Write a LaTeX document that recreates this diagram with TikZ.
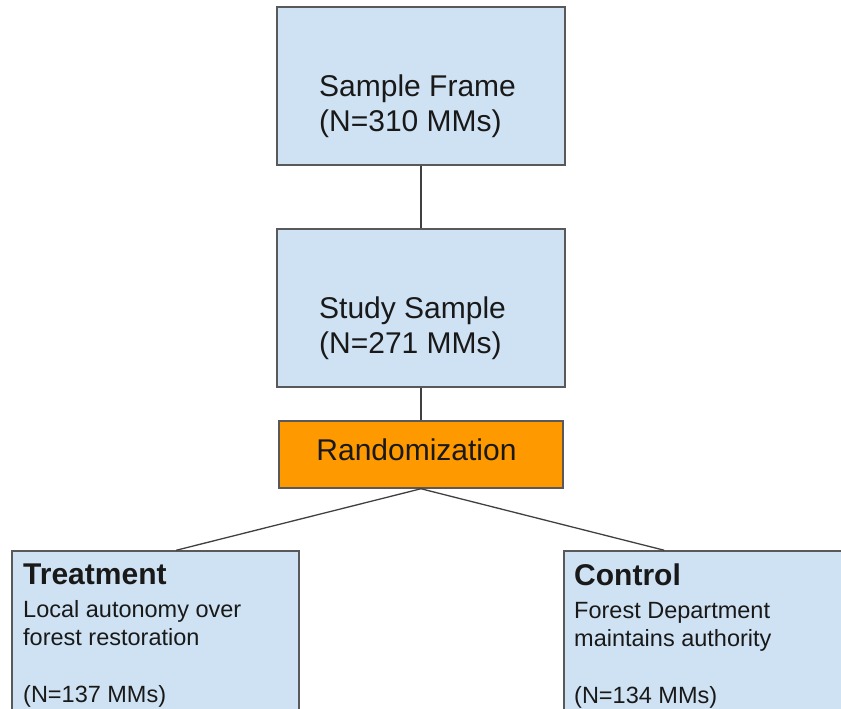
\documentclass[tikz,border=0pt]{standalone}
\usepackage{fontspec}
\setmainfont{Liberation Sans}
\usetikzlibrary{positioning}

\definecolor{boxblue}{HTML}{CFE2F3}
\definecolor{boxorange}{HTML}{FF9900}
\definecolor{edgegray}{HTML}{595959}
\definecolor{linegray}{HTML}{404040}

\tikzset{
  box/.style={draw=edgegray, line width=1.5pt, fill=boxblue, inner sep=0pt},
  randbox/.style={box, fill=boxorange},
  bigtext/.style={inner sep=0pt, align=left, font=\fontsize{30}{35}\selectfont, text=black!90},
  smalltext/.style={inner sep=0pt, align=left, font=\fontsize{23.5}{28}\selectfont, text=black!90},
  link/.style={draw=linegray, line width=1.3pt}
}

\begin{document}
\begin{tikzpicture}[x=1pt, y=-1pt]
	\useasboundingbox (0,0) rectangle (841,709);
	\clip (0,0) rectangle (841,709);

	\node[box, minimum width=288pt, minimum height=158pt] (frame) at (421,86) {};
	\node[box, minimum width=288pt, minimum height=158pt] (study) at (421,308) {};
	\node[randbox, minimum width=284pt, minimum height=67pt] (rand) at (421,454.5) {};
	\node[box, minimum width=287pt, minimum height=169pt] (treat) at (155.5,635.5) {};
	\node[box, minimum width=287pt, minimum height=169pt] (ctrl) at (707.5,635.5) {};

	\node[bigtext, anchor=north west] (frametext) at (319,75) {Sample Frame\\(N=310 MMs)};
	\node[bigtext, anchor=north west] (studytext) at (319,297) {Study Sample\\(N=271 MMs)};
	\node[bigtext, anchor=base] (randtext) at (416.5,460) {Randomization};

	\node[smalltext, anchor=north west] (treattext) at (23,564)
		{{\fontsize{30}{30}\selectfont\bfseries Treatment}\\[5pt]Local autonomy over\\forest restoration\\[29pt](N=137 MMs)};
	\node[smalltext, anchor=north west] (ctrltext) at (574,564)
		{{\fontsize{30}{30}\selectfont\bfseries Control}\\[5pt]Forest Department\\maintains authority\\[29pt](N=134 MMs)};

	\draw[link] (frame) -- (study);
	\draw[link] (study) -- (rand);
	\draw[link] (rand.south) -- ([xshift=165pt]treat.north west);
	\draw[link] (rand.south) -- ([xshift=101pt]ctrl.north west);
\end{tikzpicture}
\end{document}
